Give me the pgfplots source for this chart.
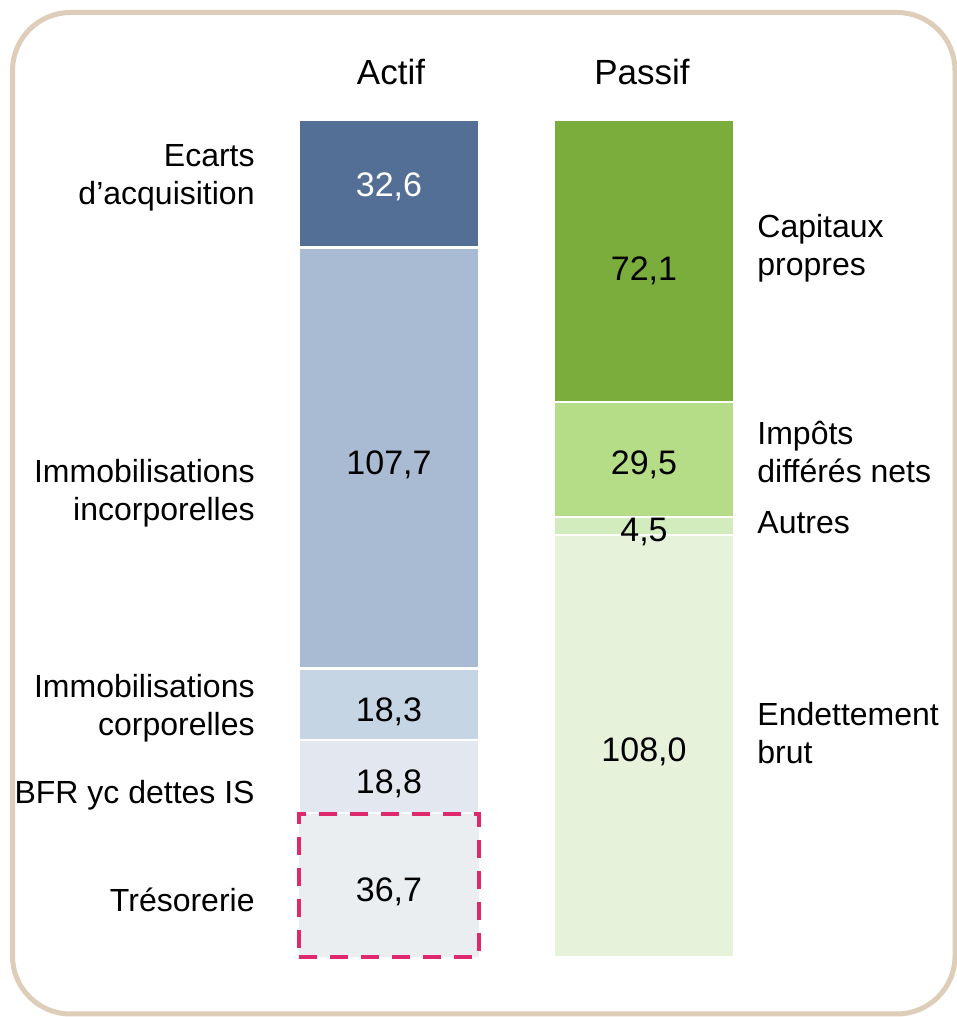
\documentclass[border=0pt]{standalone}
\usepackage{fontspec}
\setmainfont{Liberation Sans}
\usepackage{pgfplots}
\pgfplotsset{compat=1.18}
\definecolor{aA}{HTML}{546F95}
\definecolor{aB}{HTML}{A9BBD3}
\definecolor{aC}{HTML}{C6D5E3}
\definecolor{aD}{HTML}{E3E8F0}
\definecolor{aE}{HTML}{EAEEF0}
\definecolor{gA}{HTML}{7AAD3B}
\definecolor{gB}{HTML}{B5DC87}
\definecolor{gC}{HTML}{D3ECBD}
\definecolor{gD}{HTML}{E6F3DA}
\definecolor{pinkc}{HTML}{E0286E}
\definecolor{border}{HTML}{DDCDB9}
\tikzset{vl/.style={font=\fontsize{17pt}{19pt}\selectfont}}
\begin{document}
\begin{tikzpicture}
\begin{scope}[x=0.5pt,y=0.5pt]
\useasboundingbox (0,0) rectangle (957,1017);
\fill[white] (0,0) rectangle (957,1017);
\draw[border, line width=2.5pt, rounded corners=29pt] (12.5,1004.5) rectangle (955,3);
\end{scope}

% Actif
\begin{axis}[at={(144.5pt,30pt)}, anchor=south west, scale only axis, width=100pt, height=418.5pt,
  xmin=-0.5, xmax=0.5, ymin=0, ymax=214.1, axis lines=none, ybar stacked, bar width=90pt, clip=false]
\addplot[fill=aE, draw=pinkc, line width=2pt, dash pattern=on 9pt off 6.5pt] coordinates {(0,36.7)};
\addplot[fill=aD, draw=white, line width=1.2pt] coordinates {(0,18.8)};
\addplot[fill=aC, draw=white, line width=1.2pt] coordinates {(0,18.3)};
\addplot[fill=aB, draw=white, line width=1.2pt] coordinates {(0,107.7)};
\addplot[fill=aA, draw=white, line width=1.2pt] coordinates {(0,32.6)};
\coordinate (a1) at (axis cs:0,16.8);
\coordinate (a2) at (axis cs:0,44.4);
\coordinate (a3) at (axis cs:0,62.8);
\coordinate (a4) at (axis cs:0,125.9);
\coordinate (a5) at (axis cs:0,197.1);
\end{axis}

% Passif
\begin{axis}[at={(272pt,30pt)}, anchor=south west, scale only axis, width=100pt, height=418.5pt,
  xmin=-0.5, xmax=0.5, ymin=0, ymax=214.1, axis lines=none, ybar stacked, bar width=90pt, clip=false]
\addplot[fill=gD, draw=white, line width=1.2pt] coordinates {(0,108.0)};
\addplot[fill=gC, draw=white, line width=1.2pt] coordinates {(0,4.5)};
\addplot[fill=gB, draw=white, line width=1.2pt] coordinates {(0,29.5)};
\addplot[fill=gA, draw=white, line width=1.2pt] coordinates {(0,72.1)};
\coordinate (p1) at (axis cs:0,52.6);
\coordinate (p2) at (axis cs:0,108.8);
\coordinate (p3) at (axis cs:0,125.9);
\coordinate (p4) at (axis cs:0,175.6);
\end{axis}

\node[vl] at (a1) {36,7};
\node[vl] at (a2) {18,8};
\node[vl] at (a3) {18,3};
\node[vl] at (a4) {107,7};
\node[vl,text=white] at (a5) {32,6};
\node[vl] at (p1) {108,0};
\node[vl] at (p2) {4,5};
\node[vl] at (p3) {29,5};
\node[vl] at (p4) {72,1};

\begin{scope}[x=0.5pt,y=0.5pt]
% titles
\node[font=\fontsize{17.5pt}{20pt}\selectfont] at (391,945) {Actif};
\node[font=\fontsize{17.5pt}{20pt}\selectfont] at (642,945) {Passif};

\tikzset{ll/.style={anchor=east, align=right, font=\fontsize{16pt}{19pt}\selectfont, inner sep=0pt},
         rl/.style={anchor=west, align=left, font=\fontsize{16pt}{19pt}\selectfont, inner sep=0pt}}
% left labels
\node[ll] at (255,839) {Ecarts\\d’acquisition};
\node[ll] at (255,524) {Immobilisations\\incorporelles};
\node[ll] at (255,309) {Immobilisations\\corporelles};
\node[ll] at (255,222) {BFR yc dettes IS};
\node[ll] at (255,117) {Trésorerie};
% right labels
\node[rl] at (757,769) {Capitaux\\propres};
\node[rl] at (757,565) {Impôts\\différés nets};
\node[rl] at (757,494) {Autres};
\node[rl] at (757,284) {Endettement\\brut};
\end{scope}
\end{tikzpicture}
\end{document}
